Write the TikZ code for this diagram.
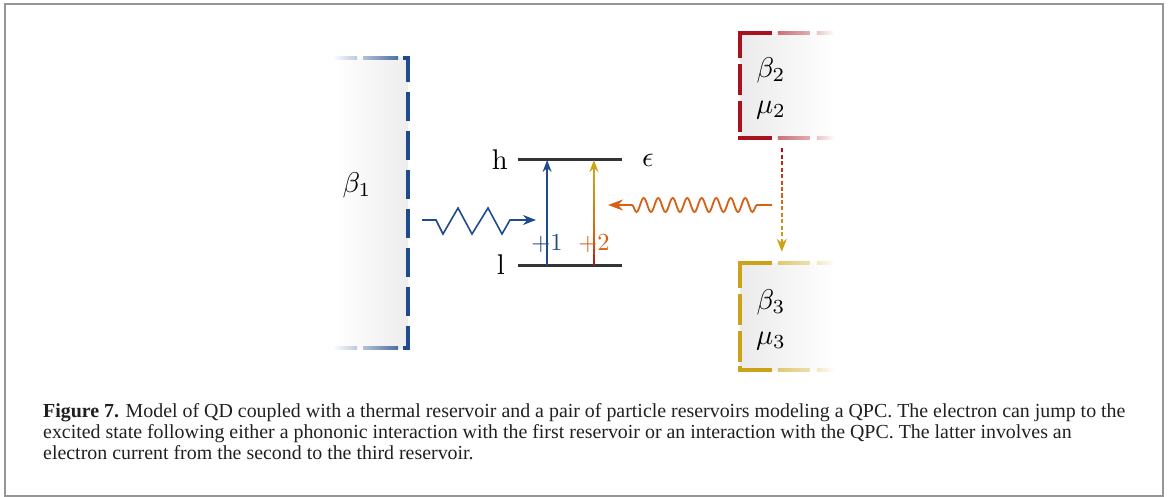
\documentclass[tikz,border=0pt]{standalone}
\usepackage{amsmath,amssymb}
\usepackage{fontspec}
\usepackage{tikz}
\usetikzlibrary{positioning,arrows.meta,calc,decorations.pathmorphing}
\newfontfamily\capfont{Liberation Serif}
\definecolor{qdblue}{RGB}{31,75,140}
\definecolor{qdred}{RGB}{168,18,30}
\definecolor{qdgold}{RGB}{204,162,22}
\definecolor{qdorange}{RGB}{214,96,22}
\definecolor{lvlgray}{RGB}{50,52,56}
\definecolor{framegray}{RGB}{150,150,150}
\definecolor{captext}{RGB}{35,31,32}
\newcommand{\bigsym}[1]{\scalebox{2.85}{#1}}
\newcommand{\jumpsym}[1]{\scalebox{2.45}{#1}}

\begin{document}
\begin{tikzpicture}[x=1pt, y=-1pt,
    lvl/.style={line width=3pt, lvlgray},
    edge/.style={line width=3.5pt},
    resbox/.style={rectangle, inner sep=0pt},
    sym/.style={inner sep=0pt, font=\fontsize{10}{12}\selectfont},
    capline/.style={anchor=base west, inner sep=0pt, text=captext,
                    font=\capfont\fontsize{19.9}{22}\selectfont}
  ]
  \useasboundingbox (0,0) rectangle (1170,497);
  \draw[framegray, line width=2pt] (5,4) rectangle (1163,496);

  % thermal reservoir
  \node[resbox, left color=white, right color=black!7,
        minimum width=75pt, minimum height=290pt] (res1) at (370.5,203) {};
  \draw[edge, qdblue, dash pattern=on 29pt off 10pt]
        ($(res1.north east)+(-5,0)$) -- (res1.north east) -- (res1.south east) -- ++(-5,0);
  \foreach \s/\e/\c/\d in {-45/-10/35/80, -76/-51/0/30}{
    \shade[left color=qdblue!\c!white, right color=qdblue!\d!white]
      ($(res1.north east)+(\s,-1.75)$) rectangle ($(res1.north east)+(\e,1.75)$);
    \shade[left color=qdblue!\c!white, right color=qdblue!\d!white]
      ($(res1.south east)+(\s,-1.75)$) rectangle ($(res1.south east)+(\e,1.75)$);
  }
  \node[sym] (b1) at (357,185) {\bigsym{$\beta_1$}};

  % particle reservoirs
  \node[resbox, left color=black!8, right color=white,
        minimum width=95pt, minimum height=105pt] (res2) at (787.5,85.5) {};
  \node[resbox, left color=black!8, right color=white,
        minimum width=95pt, minimum height=107pt] (res3) at (787.5,316.5) {};
  \foreach \r/\col in {res2/qdred, res3/qdgold}{
    \draw[edge, \col, dash pattern=on 57pt off 6pt on 31pt off 6pt on 31pt off 4pt on 40pt]
          ($(\r.north west)+(32,0)$) -- (\r.north west) -- (\r.south west) -- ++(32,0);
    \foreach \s/\e/\c/\d in {38/70/60/35, 77/95/25/0}{
      \shade[left color=\col!\c!white, right color=\col!\d!white]
        ($(\r.north west)+(\s,-1.75)$) rectangle ($(\r.north west)+(\e,1.75)$);
      \shade[left color=\col!\c!white, right color=\col!\d!white]
        ($(\r.south west)+(\s,-1.75)$) rectangle ($(\r.south west)+(\e,1.75)$);
    }
  }
  \node[sym] (b2) at (771,70) {\bigsym{$\beta_2$}};
  \node[sym] (m2) at (771,110) {\bigsym{$\mu_2$}};
  \node[sym] (b3) at (771,302) {\bigsym{$\beta_3$}};
  \node[sym] (m3) at (771,341) {\bigsym{$\mu_3$}};

  % dot levels
  \coordinate (hL) at (518,160);
  \coordinate (hR) at (622,160);
  \coordinate (lL) at (518,265);
  \coordinate (lR) at (622,265);
  \draw[lvl] (hL) -- (hR);
  \draw[lvl] (lL) -- (lR);
  \node[sym, left=10pt of hL] (hlab) {\bigsym{h}};
  \node[sym, left=13pt of lL] (llab) {\bigsym{l}};
  \node[sym, right=20pt of hR] (eps) {\bigsym{$\epsilon$}};

  % transition +1
  \coordinate (u0) at ($(lL)!0.28!(lR)$);
  \coordinate (u1) at ($(hL)!0.28!(hR)$);
  \draw[qdblue, line width=1.8pt, -{Stealth[length=12pt,width=9pt]}] (u0) -- (u1);
  \node[sym, text=qdblue] (p1) at (547,244) {\jumpsym{$+1$}};

  % transition +2
  \coordinate (g0) at ($(lL)!0.73!(lR)$);
  \coordinate (g1) at ($(hL)!0.73!(hR)$);
  \foreach \i in {0,...,16}{
    \pgfmathsetmacro{\ta}{\i/20}
    \pgfmathsetmacro{\tb}{(\i+1.1)/20}
    \pgfmathtruncatemacro{\p}{\i<5 ? \i*20+10 : min(100,(\i-5)*9)}
    \ifnum\i<5 \def\mix{qdorange!\p!qdred}\else\def\mix{qdgold!\p!qdorange}\fi
    \draw[\mix, line width=1.8pt] ($(g0)!\ta!(g1)$) -- ($(g0)!\tb!(g1)$);
  }
  \draw[qdgold, line width=1.8pt, -{Stealth[length=12pt,width=9pt]}]
        ($(g0)!0.85!(g1)$) -- (g1);
  \node[sym, text=qdorange] (p2) at (594,244) {\jumpsym{$+2$}};

  % phonon from thermal reservoir
  \coordinate (zs) at (422,220);
  \coordinate (ze) at (536,220);
  \draw[qdblue, line width=1.6pt, line join=miter, -{Stealth[length=13pt,width=10pt]}]
        (zs) -- ++(14,0) -- ++(7,14) -- ++(15,-26) -- ++(14,26) -- ++(16,-26)
        -- ++(14,26) -- ++(8,-14) -- (ze);

  % interaction with the QPC
  \coordinate (ws) at (772,205);
  \coordinate (we) at (608,205);
  \draw[qdorange, line width=1.8pt, -{Stealth[length=15pt,width=11pt]},
        decorate, decoration={snake, amplitude=7pt, segment length=14.5pt,
                              pre length=15pt, post length=17pt}]
        (ws) -- (we);

  % current from reservoir 2 to reservoir 3
  \coordinate (dt) at ($(res2.south west)+(42,10)$);
  \coordinate (db) at ($(res3.north west)+(42,-11)$);
  \coordinate (dh) at ($(db)+(0,-13)$);
  \foreach \i in {0,...,13}{
    \pgfmathsetmacro{\ta}{\i/14}
    \pgfmathsetmacro{\tb}{(\i+0.62)/14}
    \pgfmathtruncatemacro{\p}{\i<7 ? \i*14 : (\i-7)*16}
    \ifnum\i<7 \def\mix{qdorange!\p!qdred}\else\def\mix{qdgold!\p!qdorange}\fi
    \draw[\mix, line width=2pt] ($(dt)!\ta!(dh)$) -- ($(dt)!\tb!(dh)$);
  }
  \draw[qdgold, line width=1.8pt, -{Stealth[length=13pt,width=10pt]}] (dh) -- (db);

  % caption
  \node[capline] (cap1) at (43,417) {\textbf{Figure 7.} Model of QD coupled with a thermal reservoir and a pair of particle reservoirs modeling a QPC. The electron can jump to the};
  \node[capline] (cap2) at (43,438) {excited state following either a phononic interaction with the first reservoir or an interaction with the QPC. The latter involves an};
  \node[capline] (cap3) at (43,459) {electron current from the second to the third reservoir.};
\end{tikzpicture}
\end{document}
